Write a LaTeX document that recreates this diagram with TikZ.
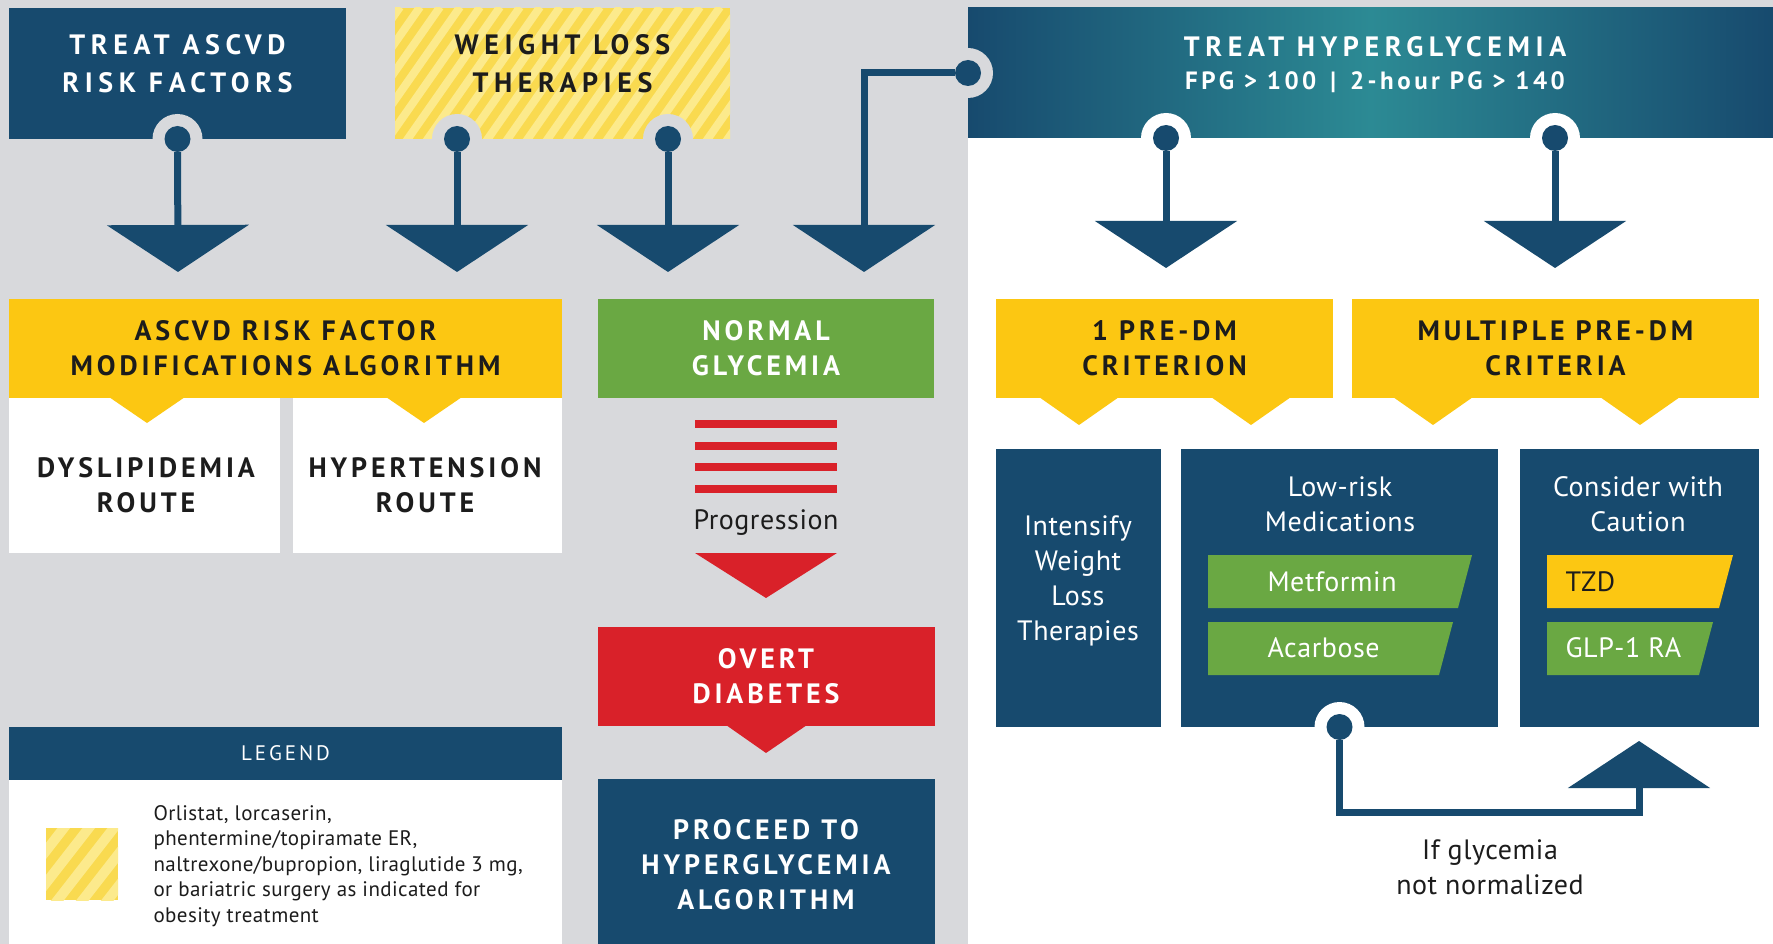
\documentclass[tikz,border=0pt]{standalone}
\usepackage{fontspec}
\setmainfont[LetterSpace=2]{PT Sans}
\newfontfamily\capsfont[LetterSpace=14]{PT Sans}
\newfontfamily\widecapsfont[LetterSpace=20]{PT Sans}
\usetikzlibrary{arrows.meta}

\definecolor{navy}{RGB}{23,74,110}
\definecolor{sea}{RGB}{44,138,148}
\definecolor{gold}{RGB}{252,199,18}
\definecolor{leaf}{RGB}{106,168,67}
\definecolor{alarm}{RGB}{217,33,41}
\definecolor{paper}{RGB}{216,217,220}
\definecolor{straw}{RGB}{249,218,80}
\definecolor{cream}{RGB}{252,234,140}
\definecolor{ink}{RGB}{28,28,28}

\tikzset{
  blk/.style={inner sep=0pt, outer sep=0pt},
  head/.style={align=center, font=\capsfont\bfseries\fontsize{28}{35}\selectfont},
  tophead/.style={align=center, font=\widecapsfont\bfseries\fontsize{28}{38}\selectfont},
  body/.style={align=center, font=\fontsize{28}{35}\selectfont},
  knob/.style={circle, fill=navy, minimum size=26pt, inner sep=0pt},
  ring/.style={circle, fill=#1, minimum size=50pt, inner sep=0pt},
  link/.style={navy, line width=7pt, -{Triangle[width=141pt,length=47pt]}},
}

\begin{document}
\begin{tikzpicture}[x=1pt,y=-1pt]
  \fill[paper] (0,0) rectangle (1773,944);
  \fill[white] (968,8) rectangle (1773,944);
  \useasboundingbox (0,0) rectangle (1773,944);

  % top row
  \node[blk, fill=navy, minimum width=337pt, minimum height=131pt] (ascvd) at (177.5,73.5) {};
  \node[tophead, text=white] (ascvd-t) at (177.5,64) {TREAT ASCVD\\RISK FACTORS};
  \node[blk, minimum width=335pt, minimum height=131pt] (wlt) at (562.5,73.5) {};
  \begin{scope}
    \clip (wlt.north west) rectangle (wlt.south east);
    \fill[straw] (wlt.north west) rectangle (wlt.south east);
    \foreach \i in {0,...,24}
      \draw[cream, line width=8pt] (300+20*\i,150) -- ++(100,-143);
  \end{scope}
  \node[tophead, text=ink] (wlt-t) at (562.5,64) {WEIGHT LOSS\\THERAPIES};
  \node[blk, minimum width=805pt, minimum height=130pt, left color=navy, right color=navy, middle color=sea] (hyper) at (1370.5,73) {};
  \node[tophead, text=white] (hyper-t) at (1375,47) {TREAT HYPERGLYCEMIA};
  \node[head, text=white, font=\capsfont\bfseries\fontsize{25}{30}\selectfont] (hyper-s) at (1375,82) {FPG > 100 \,|\, 2-hour PG > 140};

  \coordinate (t1) at (178,272);
  \coordinate (t2) at (457,272);
  \coordinate (t3) at (668,272);
  \coordinate (t4) at (864,272);
  \coordinate (t5) at (1166,268);
  \coordinate (t6) at (1555,268);

  \node[ring=paper] at (ascvd.south) {};
  \node[knob] (k1) at (ascvd.south) {};
  \node[ring=paper] at ([xshift=-105.5pt]wlt.south) {};
  \node[knob] (k2) at ([xshift=-105.5pt]wlt.south) {};
  \node[ring=paper] at ([xshift=105.5pt]wlt.south) {};
  \node[knob] (k3) at ([xshift=105.5pt]wlt.south) {};
  \node[ring=paper] at (hyper.west) {};
  \node[knob] (k4) at (hyper.west) {};
  \node[ring=white] at ([xshift=-204.5pt]hyper.south) {};
  \node[knob] (k5) at ([xshift=-204.5pt]hyper.south) {};
  \node[ring=white] at ([xshift=184.5pt]hyper.south) {};
  \node[knob] (k6) at ([xshift=184.5pt]hyper.south) {};

  \draw[link] (k1) -- (t1);
  \draw[link] (k2) -- (t2);
  \draw[link] (k3) -- (t3);
  \draw[link] (k4) -| (t4);
  \draw[link] (k5) -- (t5);
  \draw[link] (k6) -- (t6);

  % ascvd column
  \node[blk, fill=white, minimum width=271pt, minimum height=155pt] (dyslip) at (144.5,475.5) {};
  \node[head, text=ink] (dyslip-t) at (146,485.5) {DYSLIPIDEMIA\\ROUTE};
  \node[blk, fill=white, minimum width=269pt, minimum height=155pt] (hypert) at (427.5,475.5) {};
  \node[head, text=ink] (hypert-t) at (425,485.5) {HYPERTENSION\\ROUTE};
  \node[blk, head, fill=gold, text=ink, minimum width=553pt, minimum height=99pt] (rfmod) at (285.5,348.5) {ASCVD RISK FACTOR\\MODIFICATIONS ALGORITHM};
  \fill[gold] (109,397) -- (185,397) -- (147,423) -- cycle;
  \fill[gold] (386,397) -- (462,397) -- (424,423) -- cycle;

  % legend
  \node[blk, fill=navy, text=white, minimum width=553pt, minimum height=53pt, font=\capsfont\fontsize{21}{26}\selectfont] (legend) at (285.5,753.5) {LEGEND};
  \node[blk, fill=white, minimum width=553pt, minimum height=170pt] (legbox) at (285.5,865) {};
  \node[blk, minimum size=72pt] (swatch) at (82,864) {};
  \begin{scope}
    \clip (swatch.north west) rectangle (swatch.south east);
    \fill[straw] (swatch.north west) rectangle (swatch.south east);
    \foreach \i in {0,...,6}
      \draw[cream, line width=10pt] (0+25*\i,910) -- ++(70,-90);
  \end{scope}
  \node[anchor=west, align=left, text=ink, font=\fontsize{21}{25.5}\selectfont] (legtext) at (150,866)
    {Orlistat, lorcaserin,\\phentermine/topiramate ER,\\naltrexone/bupropion, liraglutide 3 mg,\\or bariatric surgery as indicated for\\obesity treatment};

  % middle column
  \node[blk, head, fill=leaf, text=white, minimum width=336pt, minimum height=99pt] (normal) at (766,348.5) {NORMAL\\GLYCEMIA};
  \foreach \y in {424,446,467,489}
    \fill[alarm] (695,\y-3.75) rectangle (837,\y+3.75);
  \node[body, text=ink] (prog) at (766,523) {Progression};
  \fill[alarm] (695,553) -- (837,553) -- (766,598) -- cycle;
  \node[blk, head, fill=alarm, text=white, minimum width=337pt, minimum height=99pt] (overt) at (766,676.5) {OVERT\\DIABETES};
  \fill[alarm] (726,725) -- (807,725) -- (766,753) -- cycle;
  \node[blk, head, fill=navy, text=white, minimum width=337pt, minimum height=172pt] (proceed) at (766,865) {PROCEED TO\\HYPERGLYCEMIA\\ALGORITHM};

  % hyperglycemia side
  \node[blk, head, fill=gold, text=ink, minimum width=337pt, minimum height=99pt] (one) at (1164.5,348.5) {1 PRE-DM\\CRITERION};
  \node[blk, head, fill=gold, text=ink, minimum width=407pt, minimum height=99pt] (multi) at (1555.5,348.5) {MULTIPLE PRE-DM\\CRITERIA};
  \fill[gold] (1039,397) -- (1119,397) -- (1079,425) -- cycle;
  \fill[gold] (1211,397) -- (1291,397) -- (1251,425) -- cycle;
  \fill[gold] (1393,397) -- (1473,397) -- (1433,425) -- cycle;
  \fill[gold] (1600,397) -- (1680,397) -- (1640,425) -- cycle;

  \node[blk, fill=navy, minimum width=165pt, minimum height=278pt] (intens) at (1078.5,588) {};
  \node[body, text=white] (intens-t) at (1078,580.5) {Intensify\\Weight\\Loss\\Therapies};
  \node[blk, fill=navy, minimum width=317pt, minimum height=278pt] (lowrisk) at (1339.5,588) {};
  \node[body, text=white] (lowrisk-t) at (1340,504.5) {Low-risk\\Medications};
  \node[blk, fill=navy, minimum width=239pt, minimum height=278pt] (consider) at (1639.5,588) {};
  \node[body, text=white] (consider-t) at (1638,504.5) {Consider with\\Caution};

  \fill[leaf] (1208,555) -- (1472,555) -- (1458,608) -- (1208,608) -- cycle;
  \fill[leaf] (1208,622) -- (1453,622) -- (1439,675) -- (1208,675) -- cycle;
  \fill[gold] (1547,555) -- (1733,555) -- (1719,608) -- (1547,608) -- cycle;
  \fill[leaf] (1547,622) -- (1713,622) -- (1699,675) -- (1547,675) -- cycle;
  \node[body, anchor=west, text=white] (met) at (1264,582) {Metformin};
  \node[body, anchor=west, text=white] (aca) at (1264,648) {Acarbose};
  \node[body, anchor=west, text=ink] (tzd) at (1562,582) {TZD};
  \node[body, anchor=west, text=white] (glp) at (1562,648) {GLP-1 RA};

  \coordinate (t7) at (1639,741);
  \coordinate (lb) at (1639,812);
  \node[ring=white] at (lowrisk.south) {};
  \node[knob] (k7) at (lowrisk.south) {};
  \draw[link] (k7) |- (lb) -- (t7);
  \node[body, text=ink] (note) at (1490,867.5) {If glycemia\\not normalized};
\end{tikzpicture}
\end{document}
